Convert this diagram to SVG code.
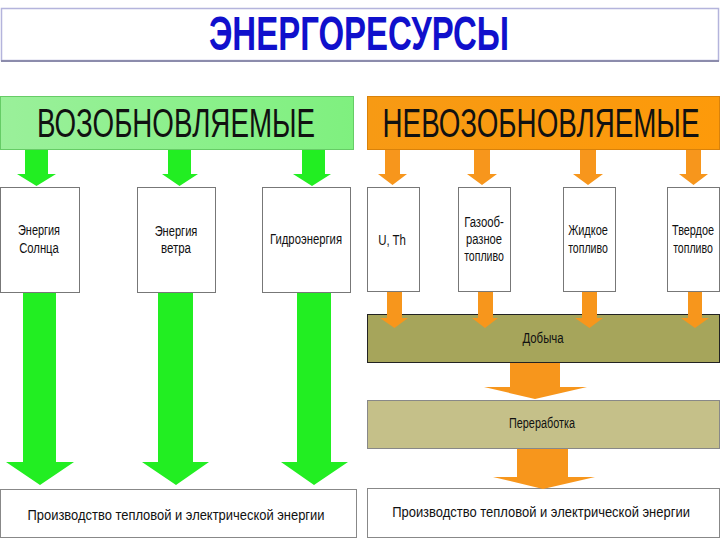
<svg xmlns="http://www.w3.org/2000/svg" width="720" height="540" viewBox="0 0 720 540">
<defs>
<linearGradient id="gGreen" x1="0" y1="0" x2="1" y2="0">
<stop offset="0" stop-color="#9af09a"/><stop offset="1" stop-color="#7ff07f"/>
</linearGradient>
<linearGradient id="gOrange" x1="0" y1="0" x2="1" y2="0">
<stop offset="0" stop-color="#f79a14"/><stop offset="1" stop-color="#fd9a0a"/>
</linearGradient>
</defs>
<style>
.t{font-family:"Liberation Sans",Arial,sans-serif;fill:#111;text-anchor:middle}
.s{font-size:14px}
.h{font-size:40px}
.box{fill:#fff;stroke:#777;stroke-width:1}
.ga{fill:#22ee22}
.oa{fill:#f7961c}
</style>
<rect width="720" height="540" fill="#fff"/>

<g id="title">
<rect x="1.5" y="8.5" width="717" height="52" fill="#fff" stroke="#b4b4dc" stroke-width="1.5"/>
<line x1="1" y1="61" x2="719" y2="61" stroke="#8c8cac" stroke-width="2"/>
<text transform="translate(359,50) scale(0.67,1)" font-family="Liberation Sans,Arial,sans-serif" font-weight="bold" font-size="48" fill="#1010cc" text-anchor="middle" textLength="448" lengthAdjust="spacingAndGlyphs">ЭНЕРГОРЕСУРСЫ</text>
</g>

<g id="renewable">
<rect x="0.5" y="96.5" width="353" height="53" fill="url(#gGreen)" stroke="#66cc66"/>
<text class="t h" transform="translate(176,137) scale(0.68,1)" textLength="409" lengthAdjust="spacingAndGlyphs">ВОЗОБНОВЛЯЕМЫЕ</text>
</g>
<g id="nonrenewable">
<rect x="367.5" y="96.5" width="352" height="53" fill="url(#gOrange)" stroke="#d9820a"/>
<text class="t h" transform="translate(541,137) scale(0.68,1)" textLength="466" lengthAdjust="spacingAndGlyphs">НЕВОЗОБНОВЛЯЕМЫЕ</text>
</g>

<g id="sun"><rect class="box" x="0.5" y="187.5" width="79" height="105"/>
<text class="t s" transform="translate(39,235) scale(0.75,1)" textLength="56" lengthAdjust="spacingAndGlyphs">Энергия</text>
<text class="t s" transform="translate(39,253) scale(0.75,1)" textLength="53" lengthAdjust="spacingAndGlyphs">Солнца</text></g>
<g id="wind"><rect class="box" x="137.5" y="187.5" width="78" height="105"/>
<text class="t s" transform="translate(176,236) scale(0.75,1)" textLength="57" lengthAdjust="spacingAndGlyphs">Энергия</text>
<text class="t s" transform="translate(176,253) scale(0.75,1)" textLength="40" lengthAdjust="spacingAndGlyphs">ветра</text></g>
<g id="hydro"><rect class="box" x="262.5" y="187.5" width="88" height="105"/>
<text class="t s" transform="translate(306,244) scale(0.75,1)" textLength="96" lengthAdjust="spacingAndGlyphs">Гидроэнергия</text></g>

<g id="uth"><rect class="box" x="367.5" y="187.5" width="52" height="104"/>
<text class="t s" transform="translate(392,245) scale(0.75,1)" textLength="37" lengthAdjust="spacingAndGlyphs">U, Th</text></g>
<g id="gas"><rect class="box" x="458.5" y="187.5" width="52" height="104"/>
<text class="t s" transform="translate(484,227) scale(0.75,1)" textLength="53" lengthAdjust="spacingAndGlyphs">Газооб-</text>
<text class="t s" transform="translate(484,244) scale(0.75,1)" textLength="48" lengthAdjust="spacingAndGlyphs">разное</text>
<text class="t s" transform="translate(484,261) scale(0.75,1)" textLength="53" lengthAdjust="spacingAndGlyphs">топливо</text></g>
<g id="liquid"><rect class="box" x="563.5" y="187.5" width="52" height="104"/>
<text class="t s" transform="translate(588,235) scale(0.75,1)" textLength="53" lengthAdjust="spacingAndGlyphs">Жидкое</text>
<text class="t s" transform="translate(588,253) scale(0.75,1)" textLength="53" lengthAdjust="spacingAndGlyphs">топливо</text></g>
<g id="solid"><rect class="box" x="667.5" y="187.5" width="52" height="104"/>
<text class="t s" transform="translate(693,235) scale(0.75,1)" textLength="56" lengthAdjust="spacingAndGlyphs">Твердое</text>
<text class="t s" transform="translate(693,253) scale(0.75,1)" textLength="53" lengthAdjust="spacingAndGlyphs">топливо</text></g>

<g id="mining"><rect x="367.5" y="314.5" width="352" height="48" fill="#a6a55b" stroke="#222"/>
<text class="t s" transform="translate(543,343) scale(0.75,1)" textLength="55" lengthAdjust="spacingAndGlyphs">Добыча</text></g>
<g id="processing"><rect x="367.5" y="400.5" width="352" height="48" fill="#c5c089" stroke="#888"/>
<text class="t s" transform="translate(542,428) scale(0.75,1)" textLength="88" lengthAdjust="spacingAndGlyphs">Переработка</text></g>

<g id="prod-left"><rect x="0.5" y="489.5" width="356" height="48" fill="#fff" stroke="#888"/>
<text class="t s" transform="translate(176,520) scale(0.75,1)" textLength="396" lengthAdjust="spacingAndGlyphs">Производство тепловой и электрической энергии</text></g>
<g id="prod-right"><rect x="367.5" y="488.5" width="352" height="49" fill="#fff" stroke="#888"/>
<text class="t s" transform="translate(541,517) scale(0.75,1)" textLength="397" lengthAdjust="spacingAndGlyphs">Производство тепловой и электрической энергии</text></g>

<g id="connectors">
<polygon class="ga" points="25,150 48,150 48,174 56,174 36.5,186 17,174 25,174"/>
<polygon class="ga" points="168,150 191,150 191,174 198,174 179.5,186 162,174 168,174"/>
<polygon class="ga" points="302,150 325,150 325,174 331,174 312,186 293,174 302,174"/>
<polygon class="ga" points="23,293 56,293 56,462 74,462 40,485 6,462 23,462"/>
<polygon class="ga" points="158,293 193,293 193,462 209,462 176,485 142,462 158,462"/>
<polygon class="ga" points="297,293 331,293 331,462 348,462 314,485 281,462 297,462"/>
<polygon class="oa" points="385,150 400,150 400,174 407,174 392.5,185 378,174 385,174"/>
<polygon class="oa" points="474,150 490,150 490,174 497,174 482,185 467,174 474,174"/>
<polygon class="oa" points="580,150 596,150 596,174 603,174 588,185 573,174 580,174"/>
<polygon class="oa" points="686,150 701,150 701,174 708,174 693.5,185 679,174 686,174"/>
<polygon class="oa" points="387,292 402,292 402,318 408,318 394.5,328 380,318 387,318"/>
<polygon class="oa" points="478,292 493,292 493,318 498,318 485,328 472,318 478,318"/>
<polygon class="oa" points="582,292 597,292 597,318 603,318 589.5,328 575,318 582,318"/>
<polygon class="oa" points="688,292 702,292 702,318 709,318 695,328 681,318 688,318"/>
<polygon class="oa" points="510,363 560,363 560,387 587,387 535,399 484,387 510,387"/>
<polygon class="oa" points="517,449 568,449 568,477 595,477 543,489 493,477 517,477"/>
</g>
</svg>
